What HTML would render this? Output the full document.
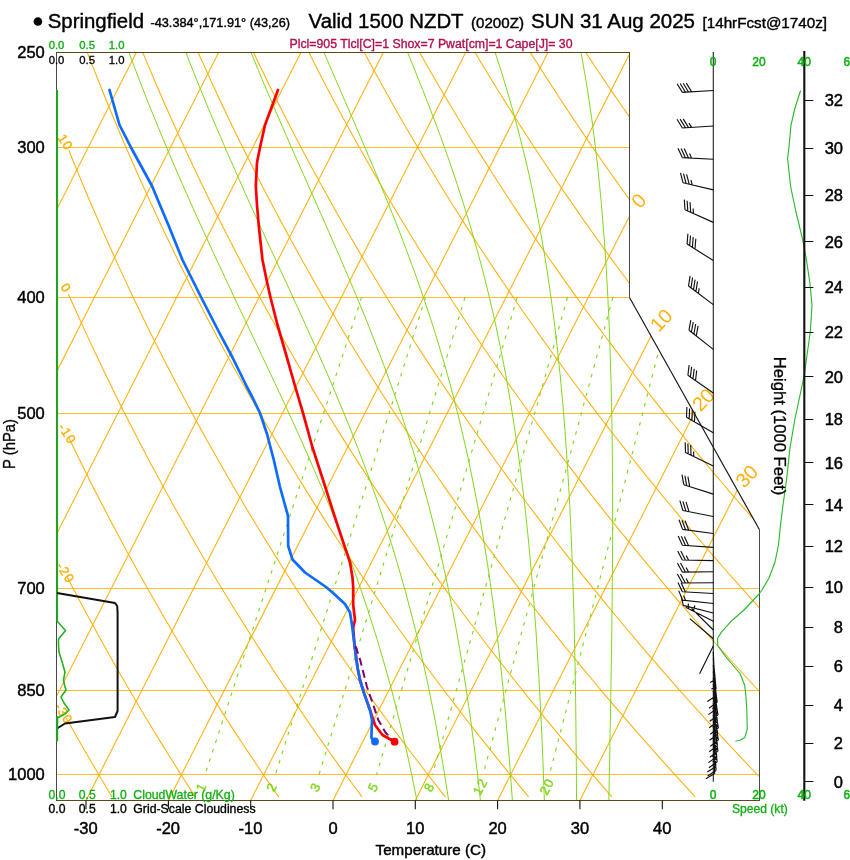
<!DOCTYPE html>
<html><head><meta charset="utf-8"><title>Skew-T Springfield</title>
<style>
html,body{margin:0;padding:0;background:#fff;}
body{width:850px;height:860px;overflow:hidden;}
svg{display:block;font-family:"Liberation Sans",Arial,Helvetica,sans-serif;}
</style></head><body>
<svg width="850" height="860" viewBox="0 0 850 860">
<rect width="850" height="860" fill="#fff"/>
<defs><clipPath id="fc"><polygon points="56.5,52.5 629.5,52.5 629.5,297.5 759.5,529.8 759.5,800.5 56.5,800.5"/></clipPath></defs>
<g clip-path="url(#fc)" fill="none" stroke-width="1.05">
<line x1="0" x2="850" y1="147.5" y2="147.5" stroke="#ffb00a" stroke-width="1" stroke-opacity="0.85"/>
<line x1="0" x2="850" y1="297.5" y2="297.5" stroke="#ffb00a" stroke-width="1" stroke-opacity="0.85"/>
<line x1="0" x2="850" y1="413.5" y2="413.5" stroke="#ffb00a" stroke-width="1" stroke-opacity="0.85"/>
<line x1="0" x2="850" y1="588.5" y2="588.5" stroke="#ffb00a" stroke-width="1" stroke-opacity="0.85"/>
<line x1="0" x2="850" y1="690.5" y2="690.5" stroke="#ffb00a" stroke-width="1" stroke-opacity="0.85"/>
<line x1="0" x2="850" y1="774.5" y2="774.5" stroke="#ffb00a" stroke-width="1" stroke-opacity="0.85"/>
<line x1="-490.2" y1="800.4" x2="-99.7" y2="31.1" stroke="#ffb00a"/>
<line x1="-407.9" y1="800.4" x2="-17.4" y2="31.1" stroke="#ffb00a"/>
<line x1="-325.6" y1="800.4" x2="64.9" y2="31.1" stroke="#ffb00a"/>
<line x1="-243.2" y1="800.4" x2="147.2" y2="31.1" stroke="#ffb00a"/>
<line x1="-160.9" y1="800.4" x2="229.5" y2="31.1" stroke="#ffb00a"/>
<line x1="-78.6" y1="800.4" x2="311.8" y2="31.1" stroke="#ffb00a"/>
<line x1="3.7" y1="800.4" x2="394.2" y2="31.1" stroke="#ffb00a"/>
<line x1="86.0" y1="800.4" x2="476.5" y2="31.1" stroke="#ffb00a"/>
<line x1="168.4" y1="800.4" x2="558.8" y2="31.1" stroke="#ffb00a"/>
<line x1="250.7" y1="800.4" x2="641.1" y2="31.1" stroke="#ffb00a"/>
<line x1="333.0" y1="800.4" x2="723.4" y2="31.1" stroke="#ffb00a"/>
<line x1="415.3" y1="800.4" x2="805.8" y2="31.1" stroke="#ffb00a"/>
<line x1="497.6" y1="800.4" x2="888.1" y2="31.1" stroke="#ffb00a"/>
<line x1="579.9" y1="800.4" x2="970.4" y2="31.1" stroke="#ffb00a"/>
<polyline points="66.5,718.0 66.6,718.7 67.5,720.2 68.3,721.6 69.1,723.1 69.9,724.6 70.8,726.1 71.6,727.5 72.4,729.0 73.3,730.5 74.1,732.0 74.9,733.4 75.8,734.9 76.6,736.4 77.4,737.9 78.3,739.3 79.1,740.8 80.0,742.3 80.8,743.8 81.6,745.2 82.5,746.7 83.3,748.2 84.2,749.7 85.0,751.2 85.9,752.6 86.7,754.1 87.6,755.6 88.5,757.1 89.3,758.5 90.2,760.0 91.0,761.5 91.9,763.0 92.8,764.4 93.6,765.9 94.5,767.4 95.3,768.9 96.2,770.3 97.1,771.8 98.0,773.3 98.8,774.8 99.7,776.2 100.6,777.7 101.4,779.2 102.3,780.7 103.2,782.2 104.1,783.6 105.0,785.1 105.8,786.6 106.7,788.1 107.6,789.5 108.5,791.0 109.4,792.5 110.3,794.0 111.2,795.4 112.1,796.9" stroke="#ffb00a"/>
<polyline points="67.6,576.0 67.6,577.8 69.6,581.6 71.6,585.5 73.6,589.3 75.7,593.1 77.7,597.0 79.7,600.8 81.8,604.7 83.8,608.5 85.9,612.4 88.0,616.2 90.1,620.1 92.2,623.9 94.3,627.8 96.4,631.6 98.5,635.4 100.6,639.3 102.7,643.1 104.9,647.0 107.0,650.8 109.2,654.7 111.4,658.5 113.5,662.4 115.7,666.2 117.9,670.0 120.1,673.9 122.3,677.7 124.6,681.6 126.8,685.4 129.0,689.3 131.3,693.1 133.5,697.0 135.8,700.8 138.1,704.6 140.3,708.5 142.6,712.3 144.9,716.2 147.3,720.0 149.6,723.9 151.9,727.7 154.2,731.6 156.6,735.4 158.9,739.2 161.3,743.1 163.7,746.9 166.1,750.8 168.4,754.6 170.8,758.5 173.3,762.3 175.7,766.2 178.1,770.0 180.5,773.8 183.0,777.7 185.4,781.5 187.9,785.4 190.4,789.2 192.9,793.1 195.4,796.9" stroke="#ffb00a"/>
<polyline points="69.0,438.2 72.1,444.6 75.1,450.8 78.1,457.0 81.2,463.1 84.2,469.3 87.3,475.5 90.4,481.7 93.5,487.9 96.7,494.0 99.9,500.2 103.1,506.4 106.3,512.6 109.5,518.8 112.8,525.0 116.0,531.1 119.3,537.3 122.7,543.5 126.0,549.7 129.4,555.9 132.8,562.0 136.2,568.2 139.6,574.4 143.1,580.6 146.5,586.8 150.0,592.9 153.6,599.1 157.1,605.3 160.7,611.5 164.3,617.7 167.9,623.8 171.5,630.0 175.2,636.2 178.9,642.4 182.6,648.6 186.3,654.8 190.1,660.9 193.8,667.1 197.6,673.3 201.5,679.5 205.3,685.7 209.2,691.8 213.1,698.0 217.0,704.2 220.9,710.4 224.9,716.6 228.9,722.7 232.9,728.9 236.9,735.1 241.0,741.3 245.1,747.5 249.2,753.6 253.3,759.8 257.5,766.0 261.7,772.2 265.9,778.4 270.1,784.6 274.4,790.7 278.7,796.9" stroke="#ffb00a"/>
<polyline points="68.3,294.3 70.5,298.7 74.3,307.3 78.2,315.9 82.1,324.5 86.0,333.1 90.0,341.6 94.0,350.2 98.1,358.8 102.2,367.4 106.3,376.0 110.5,384.6 114.7,393.2 118.9,401.8 123.2,410.4 127.6,419.0 131.9,427.5 136.4,436.1 140.8,444.7 145.3,453.3 149.9,461.9 154.5,470.5 159.1,479.1 163.8,487.7 168.5,496.3 173.2,504.9 178.0,513.4 182.9,522.0 187.8,530.6 192.7,539.2 197.7,547.8 202.7,556.4 207.8,565.0 212.9,573.6 218.0,582.2 223.2,590.8 228.5,599.3 233.7,607.9 239.1,616.5 244.5,625.1 249.9,633.7 255.3,642.3 260.9,650.9 266.4,659.5 272.0,668.1 277.7,676.7 283.4,685.2 289.2,693.8 295.0,702.4 300.8,711.0 306.7,719.6 312.7,728.2 318.6,736.8 324.7,745.4 330.8,754.0 336.9,762.6 343.1,771.1 349.4,779.7 355.7,788.3 362.0,796.9" stroke="#ffb00a"/>
<polyline points="69.0,150.3 70.9,155.5 75.4,166.5 80.0,177.6 84.6,188.7 89.2,199.7 94.0,210.8 98.8,221.8 103.6,232.9 108.6,244.0 113.5,255.0 118.6,266.1 123.7,277.1 128.9,288.2 134.1,299.2 139.5,310.3 144.8,321.4 150.3,332.4 155.8,343.5 161.4,354.5 167.0,365.6 172.8,376.7 178.6,387.7 184.4,398.8 190.3,409.8 196.3,420.9 202.4,432.0 208.5,443.0 214.8,454.1 221.0,465.1 227.4,476.2 233.8,487.3 240.3,498.3 246.9,509.4 253.6,520.4 260.3,531.5 267.1,542.6 274.0,553.6 280.9,564.7 287.9,575.7 295.0,586.8 302.2,597.8 309.5,608.9 316.8,620.0 324.2,631.0 331.7,642.1 339.3,653.1 347.0,664.2 354.7,675.3 362.5,686.3 370.4,697.4 378.4,708.4 386.5,719.5 394.6,730.6 402.9,741.6 411.2,752.7 419.6,763.7 428.1,774.8 436.6,785.9 445.3,796.9" stroke="#ffb00a"/>
<polyline points="79.3,31.1 84.1,43.9 89.0,56.7 94.0,69.4 99.0,82.2 104.1,95.0 109.3,107.7 114.6,120.5 120.0,133.2 125.4,146.0 131.0,158.8 136.6,171.5 142.3,184.3 148.1,197.1 153.9,209.8 159.9,222.6 165.9,235.3 172.1,248.1 178.3,260.9 184.6,273.6 191.0,286.4 197.5,299.2 204.1,311.9 210.8,324.7 217.5,337.5 224.4,350.2 231.4,363.0 238.4,375.7 245.6,388.5 252.8,401.3 260.1,414.0 267.6,426.8 275.1,439.6 282.7,452.3 290.5,465.1 298.3,477.8 306.2,490.6 314.2,503.4 322.4,516.1 330.6,528.9 339.0,541.7 347.4,554.4 356.0,567.2 364.6,579.9 373.4,592.7 382.2,605.5 391.2,618.2 400.3,631.0 409.5,643.8 418.8,656.5 428.2,669.3 437.7,682.0 447.4,694.8 457.1,707.6 467.0,720.3 477.0,733.1 487.1,745.9 497.3,758.6 507.6,771.4 518.1,784.2 528.6,796.9" stroke="#ffb00a"/>
<polyline points="134.1,31.1 139.3,43.9 144.5,56.7 149.9,69.4 155.3,82.2 160.8,95.0 166.4,107.7 172.1,120.5 177.9,133.2 183.7,146.0 189.7,158.8 195.7,171.5 201.8,184.3 208.0,197.1 214.3,209.8 220.7,222.6 227.2,235.3 233.7,248.1 240.4,260.9 247.1,273.6 254.0,286.4 260.9,299.2 267.9,311.9 275.1,324.7 282.3,337.5 289.6,350.2 297.0,363.0 304.5,375.7 312.1,388.5 319.8,401.3 327.7,414.0 335.6,426.8 343.6,439.6 351.7,452.3 359.9,465.1 368.2,477.8 376.6,490.6 385.2,503.4 393.8,516.1 402.5,528.9 411.4,541.7 420.3,554.4 429.4,567.2 438.6,579.9 447.8,592.7 457.2,605.5 466.7,618.2 476.4,631.0 486.1,643.8 495.9,656.5 505.9,669.3 516.0,682.0 526.1,694.8 536.5,707.6 546.9,720.3 557.4,733.1 568.1,745.9 578.9,758.6 589.8,771.4 600.8,784.2 611.9,796.9" stroke="#ffb00a"/>
<polyline points="188.8,31.1 194.4,43.9 200.0,56.7 205.8,69.4 211.6,82.2 217.5,95.0 223.5,107.7 229.6,120.5 235.7,133.2 242.0,146.0 248.4,158.8 254.8,171.5 261.3,184.3 268.0,197.1 274.7,209.8 281.5,222.6 288.4,235.3 295.4,248.1 302.5,260.9 309.7,273.6 316.9,286.4 324.3,299.2 331.8,311.9 339.4,324.7 347.0,337.5 354.8,350.2 362.7,363.0 370.7,375.7 378.7,388.5 386.9,401.3 395.2,414.0 403.6,426.8 412.1,439.6 420.6,452.3 429.3,465.1 438.2,477.8 447.1,490.6 456.1,503.4 465.2,516.1 474.5,528.9 483.8,541.7 493.3,554.4 502.8,567.2 512.5,579.9 522.3,592.7 532.2,605.5 542.3,618.2 552.4,631.0 562.7,643.8 573.1,656.5 583.6,669.3 594.2,682.0 604.9,694.8 615.8,707.6 626.8,720.3 637.9,733.1 649.1,745.9 660.4,758.6 671.9,771.4 683.5,784.2 695.3,796.9" stroke="#ffb00a"/>
<polyline points="243.5,31.1 249.3,43.6 255.2,56.0 261.2,68.4 267.2,80.8 273.3,93.3 279.5,105.7 285.8,118.1 292.2,130.5 298.7,142.9 305.3,155.4 311.9,167.8 318.6,180.2 325.5,192.6 332.4,205.1 339.4,217.5 346.5,229.9 353.7,242.3 360.9,254.8 368.3,267.2 375.8,279.6 383.3,292.0 391.0,304.5 398.7,316.9 406.6,329.3 414.5,341.7 422.6,354.1 430.7,366.6 438.9,379.0 447.3,391.4 455.7,403.8 464.3,416.3 472.9,428.7 481.6,441.1 490.5,453.5 499.4,466.0 508.5,478.4 517.6,490.8 526.9,503.2 536.3,515.6 545.7,528.1 555.3,540.5 565.0,552.9 574.8,565.3 584.7,577.8 594.8,590.2 604.9,602.6 615.1,615.0 625.5,627.5 636.0,639.9 646.6,652.3 657.3,664.7 668.1,677.1 679.0,689.6 690.1,702.0 701.3,714.4 712.6,726.8 724.0,739.3 735.5,751.7 747.2,764.1 759.0,776.5" stroke="#ffb00a"/>
<polyline points="298.3,31.1 303.7,42.1 309.3,53.2 314.8,64.2 320.5,75.2 326.2,86.2 332.0,97.2 337.9,108.2 343.8,119.2 349.8,130.2 355.9,141.2 362.1,152.2 368.3,163.2 374.6,174.2 380.9,185.2 387.4,196.2 393.9,207.2 400.4,218.2 407.1,229.2 413.8,240.3 420.6,251.3 427.5,262.3 434.5,273.3 441.5,284.3 448.6,295.3 455.8,306.3 463.0,317.3 470.4,328.3 477.8,339.3 485.3,350.3 492.9,361.3 500.5,372.3 508.2,383.3 516.1,394.3 523.9,405.3 531.9,416.3 540.0,427.3 548.1,438.4 556.3,449.4 564.7,460.4 573.0,471.4 581.5,482.4 590.1,493.4 598.7,504.4 607.5,515.4 616.3,526.4 625.2,537.4 634.2,548.4 643.3,559.4 652.5,570.4 661.7,581.4 671.1,592.4 680.5,603.4 690.0,614.4 699.7,625.5 709.4,636.5 719.2,647.5 729.1,658.5 739.1,669.5 749.2,680.5 759.4,691.5" stroke="#ffb00a"/>
<polyline points="353.0,31.1 358.1,40.8 363.2,50.4 368.4,60.1 373.6,69.7 378.9,79.3 384.2,89.0 389.6,98.6 395.0,108.3 400.5,117.9 406.1,127.5 411.7,137.2 417.4,146.8 423.1,156.5 428.9,166.1 434.7,175.7 440.6,185.4 446.5,195.0 452.5,204.7 458.6,214.3 464.7,223.9 470.9,233.6 477.1,243.2 483.4,252.8 489.8,262.5 496.2,272.1 502.7,281.8 509.2,291.4 515.8,301.0 522.5,310.7 529.2,320.3 536.0,330.0 542.8,339.6 549.7,349.2 556.7,358.9 563.7,368.5 570.8,378.2 578.0,387.8 585.2,397.4 592.5,407.1 599.8,416.7 607.2,426.4 614.7,436.0 622.3,445.6 629.9,455.3 637.6,464.9 645.3,474.6 653.1,484.2 661.0,493.8 668.9,503.5 677.0,513.1 685.0,522.8 693.2,532.4 701.4,542.0 709.7,551.7 718.1,561.3 726.5,571.0 735.0,580.6 743.6,590.2 752.2,599.9 760.9,609.5" stroke="#ffb00a"/>
<polyline points="407.7,31.1 412.3,39.4 416.9,47.6 421.5,55.8 426.2,64.0 430.9,72.2 435.7,80.4 440.5,88.7 445.4,96.9 450.2,105.1 455.2,113.3 460.1,121.5 465.1,129.7 470.2,138.0 475.3,146.2 480.4,154.4 485.6,162.6 490.8,170.8 496.1,179.0 501.4,187.3 506.7,195.5 512.1,203.7 517.5,211.9 523.0,220.1 528.5,228.3 534.1,236.6 539.7,244.8 545.3,253.0 551.0,261.2 556.8,269.4 562.6,277.6 568.4,285.9 574.3,294.1 580.2,302.3 586.1,310.5 592.2,318.7 598.2,326.9 604.3,335.2 610.5,343.4 616.7,351.6 622.9,359.8 629.2,368.0 635.5,376.2 641.9,384.4 648.3,392.7 654.8,400.9 661.4,409.1 667.9,417.3 674.6,425.5 681.2,433.7 688.0,442.0 694.7,450.2 701.5,458.4 708.4,466.6 715.3,474.8 722.3,483.0 729.3,491.3 736.4,499.5 743.5,507.7 750.7,515.9 757.9,524.1" stroke="#ffb00a"/>
<polyline points="462.5,31.1 465.0,35.5 467.5,39.8 470.1,44.1 472.6,48.5 475.2,52.8 477.8,57.1 480.4,61.4 483.0,65.8 485.6,70.1 488.3,74.4 490.9,78.8 493.6,83.1 496.2,87.4 498.9,91.7 501.6,96.1 504.3,100.4 507.0,104.7 509.7,109.0 512.5,113.4 515.2,117.7 518.0,122.0 520.7,126.4 523.5,130.7 526.3,135.0 529.1,139.3 531.9,143.7 534.8,148.0 537.6,152.3 540.5,156.7 543.3,161.0 546.2,165.3 549.1,169.6 552.0,174.0 554.9,178.3 557.8,182.6 560.8,187.0 563.7,191.3 566.7,195.6 569.7,199.9 572.7,204.3 575.7,208.6 578.7,212.9 581.7,217.3 584.7,221.6 587.8,225.9 590.9,230.2 593.9,234.6 597.0,238.9 600.1,243.2 603.2,247.6 606.4,251.9 609.5,256.2 612.6,260.5 615.8,264.9 619.0,269.2 622.2,273.5 625.4,277.8 628.6,282.2 631.8,286.5 635.1,290.8" stroke="#ffb00a"/>
<polyline points="517.2,31.1 519.0,34.0 520.7,36.9 522.5,39.8 524.3,42.6 526.1,45.5 527.8,48.4 529.6,51.2 531.4,54.1 533.2,57.0 535.0,59.9 536.9,62.7 538.7,65.6 540.5,68.5 542.3,71.3 544.2,74.2 546.0,77.1 547.9,79.9 549.7,82.8 551.6,85.7 553.4,88.6 555.3,91.4 557.2,94.3 559.0,97.2 560.9,100.0 562.8,102.9 564.7,105.8 566.6,108.7 568.5,111.5 570.4,114.4 572.3,117.3 574.2,120.1 576.2,123.0 578.1,125.9 580.0,128.8 582.0,131.6 583.9,134.5 585.9,137.4 587.8,140.2 589.8,143.1 591.7,146.0 593.7,148.9 595.7,151.7 597.7,154.6 599.7,157.5 601.7,160.3 603.7,163.2 605.7,166.1 607.7,169.0 609.7,171.8 611.7,174.7 613.7,177.6 615.8,180.4 617.8,183.3 619.8,186.2 621.9,189.0 624.0,191.9 626.0,194.8 628.1,197.7 630.1,200.5 632.2,203.4" stroke="#ffb00a"/>
<polyline points="571.9,31.1 572.9,32.7 573.9,34.2 574.9,35.7 575.9,37.2 576.8,38.8 577.8,40.3 578.8,41.8 579.8,43.3 580.8,44.9 581.8,46.4 582.8,47.9 583.8,49.4 584.8,50.9 585.8,52.5 586.8,54.0 587.8,55.5 588.8,57.0 589.8,58.6 590.8,60.1 591.8,61.6 592.8,63.1 593.8,64.7 594.8,66.2 595.9,67.7 596.9,69.2 597.9,70.7 598.9,72.3 599.9,73.8 601.0,75.3 602.0,76.8 603.0,78.4 604.0,79.9 605.1,81.4 606.1,82.9 607.1,84.5 608.1,86.0 609.2,87.5 610.2,89.0 611.3,90.5 612.3,92.1 613.3,93.6 614.4,95.1 615.4,96.6 616.5,98.2 617.5,99.7 618.6,101.2 619.6,102.7 620.7,104.3 621.7,105.8 622.8,107.3 623.8,108.8 624.9,110.4 625.9,111.9 627.0,113.4 628.1,114.9 629.1,116.4 630.2,118.0 631.2,119.5 632.3,121.0 633.4,122.5" stroke="#ffb00a"/>
<polyline points="608.8,800.4 609.0,790.9 609.2,781.4 609.4,772.0 609.6,762.5 609.8,753.0 609.9,743.5 610.1,734.0 610.3,724.5 610.5,715.1 610.6,705.6 610.8,696.1 611.0,686.6 611.1,677.1 611.3,667.7 611.4,658.2 611.6,648.7 611.7,639.2 611.8,629.7 611.9,620.3 612.0,610.8 612.2,601.3 612.2,591.8 612.3,582.3 612.4,572.8 612.5,563.4 612.5,553.9 612.6,544.4 612.6,534.9 612.6,525.4 612.6,516.0 612.6,506.5 612.6,497.0 612.6,487.5 612.5,478.0 612.4,468.6 612.4,459.1 612.3,449.6 612.2,440.1 612.0,430.6 611.9,421.1 611.7,411.7 611.5,402.2 611.3,392.7 611.1,383.2 610.8,373.7 610.5,364.3 610.2,354.8 609.9,345.3 609.6,335.8 609.2,326.3 608.8,316.8 608.3,307.4 607.9,297.9 607.4,288.4 606.8,278.9 606.3,269.4 605.7,260.0 605.0,250.5 604.4,241.0 603.6,231.5 602.9,222.0 602.1,212.6 601.3,203.1 600.4,193.6 599.5,184.1 598.5,174.6 597.5,165.1 596.4,155.7 595.3,146.2 594.1,136.7 592.9,127.2 591.6,117.7 590.2,108.3 588.8,98.8 587.4,89.3 585.8,79.8 584.2,70.3 582.6,60.9 580.8,51.4 579.0,41.9" stroke="#80d818" stroke-width="1"/>
<polyline points="576.5,800.4 576.5,790.9 576.4,781.4 576.4,772.0 576.3,762.5 576.2,753.0 576.1,743.5 576.0,734.0 575.9,724.5 575.8,715.1 575.7,705.6 575.6,696.1 575.4,686.6 575.3,677.1 575.1,667.7 574.9,658.2 574.7,648.7 574.5,639.2 574.3,629.7 574.1,620.3 573.8,610.8 573.5,601.3 573.2,591.8 572.9,582.3 572.6,572.8 572.3,563.4 571.9,553.9 571.5,544.4 571.1,534.9 570.7,525.4 570.2,516.0 569.8,506.5 569.3,497.0 568.7,487.5 568.2,478.0 567.6,468.6 567.0,459.1 566.3,449.6 565.7,440.1 565.0,430.6 564.2,421.1 563.5,411.7 562.7,402.2 561.8,392.7 560.9,383.2 560.0,373.7 559.0,364.3 558.0,354.8 557.0,345.3 555.9,335.8 554.8,326.3 553.6,316.8 552.3,307.4 551.1,297.9 549.7,288.4 548.3,278.9 546.9,269.4 545.4,260.0 543.8,250.5 542.2,241.0 540.5,231.5 538.7,222.0 536.9,212.6 535.0,203.1 533.1,193.6 531.1,184.1 529.0,174.6 526.8,165.1 524.6,155.7 522.2,146.2 519.8,136.7 517.4,127.2 514.8,117.7 512.2,108.3 509.5,98.8 506.7,89.3 503.9,79.8 500.9,70.3 497.9,60.9 494.8,51.4 491.6,41.9" stroke="#80d818" stroke-width="1"/>
<polyline points="544.4,800.4 544.0,790.9 543.7,781.4 543.3,772.0 543.0,762.5 542.6,753.0 542.2,743.5 541.8,734.0 541.3,724.5 540.9,715.1 540.4,705.6 539.9,696.1 539.4,686.6 538.9,677.1 538.3,667.7 537.7,658.2 537.1,648.7 536.5,639.2 535.9,629.7 535.2,620.3 534.5,610.8 533.8,601.3 533.0,591.8 532.3,582.3 531.4,572.8 530.6,563.4 529.7,553.9 528.8,544.4 527.9,534.9 526.9,525.4 525.9,516.0 524.9,506.5 523.8,497.0 522.6,487.5 521.5,478.0 520.3,468.6 519.0,459.1 517.7,449.6 516.3,440.1 514.9,430.6 513.5,421.1 512.0,411.7 510.5,402.2 508.8,392.7 507.2,383.2 505.5,373.7 503.7,364.3 501.9,354.8 500.0,345.3 498.0,335.8 496.0,326.3 493.9,316.8 491.7,307.4 489.5,297.9 487.2,288.4 484.8,278.9 482.4,269.4 479.9,260.0 477.3,250.5 474.6,241.0 471.9,231.5 469.1,222.0 466.2,212.6 463.2,203.1 460.2,193.6 457.1,184.1 453.9,174.6 450.7,165.1 447.4,155.7 444.0,146.2 440.6,136.7 437.1,127.2 433.5,117.7 429.9,108.3 426.2,98.8 422.5,89.3 418.7,79.8 414.9,70.3 411.1,60.9 407.2,51.4 403.3,41.9" stroke="#80d818" stroke-width="1"/>
<polyline points="512.4,800.4 511.7,790.9 511.0,781.4 510.3,772.0 509.6,762.5 508.8,753.0 508.0,743.5 507.2,734.0 506.4,724.5 505.6,715.1 504.7,705.6 503.8,696.1 502.8,686.6 501.9,677.1 500.9,667.7 499.8,658.2 498.7,648.7 497.6,639.2 496.5,629.7 495.3,620.3 494.1,610.8 492.8,601.3 491.5,591.8 490.2,582.3 488.8,572.8 487.4,563.4 485.9,553.9 484.4,544.4 482.8,534.9 481.2,525.4 479.5,516.0 477.8,506.5 476.0,497.0 474.1,487.5 472.2,478.0 470.3,468.6 468.3,459.1 466.2,449.6 464.0,440.1 461.8,430.6 459.6,421.1 457.2,411.7 454.8,402.2 452.3,392.7 449.8,383.2 447.2,373.7 444.5,364.3 441.7,354.8 438.9,345.3 436.0,335.8 433.0,326.3 429.9,316.8 426.8,307.4 423.6,297.9 420.3,288.4 417.0,278.9 413.6,269.4 410.1,260.0 406.6,250.5 403.0,241.0 399.4,231.5 395.7,222.0 391.9,212.6 388.1,203.1 384.2,193.6 380.3,184.1 376.4,174.6 372.4,165.1 368.4,155.7 364.4,146.2 360.4,136.7 356.3,127.2 352.2,117.7 348.1,108.3 344.0,98.8 339.9,89.3 335.8,79.8 331.7,70.3 327.6,60.9 323.6,51.4 319.5,41.9" stroke="#80d818" stroke-width="1"/>
<polyline points="480.4,800.4 479.4,790.9 478.3,781.4 477.3,772.0 476.1,762.5 475.0,753.0 473.8,743.5 472.5,734.0 471.3,724.5 470.0,715.1 468.6,705.6 467.2,696.1 465.8,686.6 464.3,677.1 462.8,667.7 461.2,658.2 459.6,648.7 458.0,639.2 456.3,629.7 454.5,620.3 452.7,610.8 450.8,601.3 448.9,591.8 447.0,582.3 444.9,572.8 442.8,563.4 440.7,553.9 438.5,544.4 436.2,534.9 433.8,525.4 431.4,516.0 429.0,506.5 426.4,497.0 423.8,487.5 421.1,478.0 418.4,468.6 415.6,459.1 412.7,449.6 409.7,440.1 406.7,430.6 403.6,421.1 400.4,411.7 397.1,402.2 393.8,392.7 390.4,383.2 387.0,373.7 383.5,364.3 379.9,354.8 376.2,345.3 372.5,335.8 368.8,326.3 365.0,316.8 361.1,307.4 357.2,297.9 353.2,288.4 349.2,278.9 345.1,269.4 341.1,260.0 337.0,250.5 332.8,241.0 328.7,231.5 324.5,222.0 320.3,212.6 316.1,203.1 311.9,193.6 307.7,184.1 303.5,174.6 299.3,165.1 295.1,155.7 290.9,146.2 286.8,136.7 282.6,127.2 278.5,117.7 274.4,108.3 270.4,98.8 266.3,89.3 262.3,79.8 258.4,70.3 254.5,60.9 250.6,51.4 246.8,41.9" stroke="#80d818" stroke-width="1"/>
<polyline points="448.6,800.4 447.2,790.9 445.7,781.4 444.2,772.0 442.6,762.5 441.0,753.0 439.3,743.5 437.6,734.0 435.9,724.5 434.1,715.1 432.2,705.6 430.3,696.1 428.4,686.6 426.3,677.1 424.3,667.7 422.1,658.2 419.9,648.7 417.7,639.2 415.4,629.7 413.0,620.3 410.5,610.8 408.0,601.3 405.5,591.8 402.8,582.3 400.1,572.8 397.3,563.4 394.5,553.9 391.6,544.4 388.6,534.9 385.5,525.4 382.4,516.0 379.2,506.5 375.9,497.0 372.5,487.5 369.1,478.0 365.6,468.6 362.0,459.1 358.4,449.6 354.7,440.1 351.0,430.6 347.1,421.1 343.3,411.7 339.3,402.2 335.3,392.7 331.3,383.2 327.2,373.7 323.1,364.3 318.9,354.8 314.7,345.3 310.5,335.8 306.2,326.3 301.9,316.8 297.6,307.4 293.2,297.9 288.9,288.4 284.5,278.9 280.1,269.4 275.8,260.0 271.4,250.5 267.0,241.0 262.7,231.5 258.3,222.0 254.0,212.6 249.7,203.1 245.4,193.6 241.2,184.1 237.0,174.6 232.8,165.1 228.6,155.7 224.5,146.2 220.4,136.7 216.3,127.2 212.3,117.7 208.3,108.3 204.4,98.8 200.5,89.3 196.7,79.8 192.9,70.3 189.1,60.9 185.5,51.4 181.8,41.9" stroke="#80d818" stroke-width="1"/>
<polyline points="416.9,800.4 415.0,790.9 413.1,781.4 411.1,772.0 409.1,762.5 407.0,753.0 404.8,743.5 402.6,734.0 400.3,724.5 398.0,715.1 395.6,705.6 393.2,696.1 390.7,686.6 388.1,677.1 385.4,667.7 382.7,658.2 379.9,648.7 377.1,639.2 374.1,629.7 371.1,620.3 368.1,610.8 364.9,601.3 361.7,591.8 358.4,582.3 355.1,572.8 351.6,563.4 348.1,553.9 344.6,544.4 340.9,534.9 337.2,525.4 333.5,516.0 329.6,506.5 325.7,497.0 321.7,487.5 317.7,478.0 313.6,468.6 309.5,459.1 305.3,449.6 301.1,440.1 296.8,430.6 292.5,421.1 288.2,411.7 283.8,402.2 279.4,392.7 274.9,383.2 270.5,373.7 266.0,364.3 261.5,354.8 257.0,345.3 252.5,335.8 248.0,326.3 243.5,316.8 239.0,307.4 234.5,297.9 230.1,288.4 225.6,278.9 221.2,269.4 216.7,260.0 212.3,250.5 208.0,241.0 203.6,231.5 199.3,222.0 195.0,212.6 190.8,203.1 186.6,193.6 182.4,184.1 178.2,174.6 174.1,165.1 170.1,155.7 166.1,146.2 162.1,136.7 158.2,127.2 154.3,117.7 150.5,108.3 146.7,98.8 143.0,89.3 139.3,79.8 135.7,70.3 132.1,60.9 128.5,51.4 125.1,41.9" stroke="#80d818" stroke-width="1"/>
<line x1="672.5" y1="297.4" x2="549.4" y2="775.0" stroke="#80d818" stroke-width="1.15" stroke-dasharray="3.6,6.3"/>
<line x1="612.9" y1="297.4" x2="482.9" y2="775.0" stroke="#80d818" stroke-width="1.15" stroke-dasharray="3.6,6.3"/>
<line x1="567.5" y1="297.4" x2="432.4" y2="775.0" stroke="#80d818" stroke-width="1.15" stroke-dasharray="3.6,6.3"/>
<line x1="517.2" y1="297.4" x2="376.5" y2="775.0" stroke="#80d818" stroke-width="1.15" stroke-dasharray="3.6,6.3"/>
<line x1="465.0" y1="297.4" x2="318.9" y2="775.0" stroke="#80d818" stroke-width="1.15" stroke-dasharray="3.6,6.3"/>
<line x1="425.5" y1="297.4" x2="275.3" y2="775.0" stroke="#80d818" stroke-width="1.15" stroke-dasharray="3.6,6.3"/>
<line x1="361.6" y1="297.4" x2="204.9" y2="775.0" stroke="#80d818" stroke-width="1.15" stroke-dasharray="3.6,6.3"/>
</g>
<g font-size="13" letter-spacing="1" fill="#ffb00a" stroke="#ffb00a" stroke-width="0.4" text-anchor="middle" clip-path="url(#fc)">
<text transform="translate(65.5,142.4) rotate(57.0)" y="4.5">10</text>
<text transform="translate(66.1,287.9) rotate(57.0)" y="4.5">0</text>
<text transform="translate(67.3,433.7) rotate(57.0)" y="4.5">-10</text>
<text transform="translate(65.5,572.8) rotate(57.0)" y="4.5">-20</text>
<text transform="translate(63.8,713.5) rotate(57.0)" y="4.5">-30</text>
</g>
<g font-size="13" letter-spacing="1.2" fill="#80d818" stroke="#80d818" stroke-width="0.4" text-anchor="middle">
<text transform="translate(546.5,786.9) rotate(-62)" x="0.6" y="4.6">20</text>
<text transform="translate(479.8,786.9) rotate(-62)" x="0.6" y="4.6">12</text>
<text transform="translate(429.2,786.9) rotate(-62)" x="0.0" y="4.6">8</text>
<text transform="translate(373.2,786.9) rotate(-62)" x="0.0" y="4.6">5</text>
<text transform="translate(315.3,786.9) rotate(-62)" x="0.0" y="4.6">3</text>
<text transform="translate(271.6,786.9) rotate(-62)" x="0.0" y="4.6">2</text>
<text transform="translate(201.1,786.9) rotate(-62)" x="0.0" y="4.6">1</text>
</g>
<g font-size="20" fill="#ffb00a" text-anchor="middle">
<text transform="translate(638.5,200.5) rotate(-47)" y="7.2">0</text>
<text transform="translate(661.0,320.0) rotate(-47)" y="7.2">10</text>
<text transform="translate(703.0,399.5) rotate(-47)" y="7.2">20</text>
<text transform="translate(746.5,476.0) rotate(-47)" y="7.2">30</text>
</g>
<path d="M56.5 52.5 V800.5 M629.5 52.5 V297.5 M759.5 529.8 V800.5" fill="none" stroke="#484848" stroke-width="1"/>
<path d="M56.0 52.5 H630.0 M56.0 800.5 H760.0" fill="none" stroke="#5a481c" stroke-width="1"/>
<path d="M629.5 297.5 L759.5 529.8" fill="none" stroke="#151515" stroke-width="1.15"/>
<g fill="none" stroke-linejoin="round" stroke-linecap="round">
<polyline points="278.0,90.0 265.0,125.0 260.0,147.5 257.0,162.5 255.8,186.0 257.0,205.0 258.8,226.0 262.5,260.0 267.0,282.0 270.5,297.5 277.5,325.0 286.2,355.0 295.0,386.0 303.0,413.0 312.5,447.5 324.0,483.0 335.0,517.5 345.0,547.5 350.0,562.5 352.5,577.5 353.2,587.0 353.2,605.0 355.0,620.0 353.2,627.5 354.5,645.0 357.5,667.5 360.0,680.0 363.8,692.5 370.0,710.0 372.0,716.0 375.0,725.0 382.5,735.0 394.5,741.7" stroke="#ff0000" stroke-width="2.7"/>
<polyline points="109.5,90.0 119.5,125.0 131.0,147.5 152.0,186.0 168.8,226.0 182.5,260.0 196.0,287.0 202.5,300.0 220.0,334.0 232.5,357.5 247.0,387.0 252.5,397.5 260.0,413.0 267.0,434.0 273.8,460.0 280.0,487.0 288.0,516.0 288.2,546.0 292.5,559.5 305.0,572.5 326.0,587.0 332.5,592.5 345.0,604.0 350.0,612.5 352.0,625.0 354.5,645.0 357.5,667.5 360.0,680.0 363.8,692.5 370.0,710.0 372.0,720.0 371.4,737.5 373.5,741.0" stroke="#0d6bff" stroke-width="2.7"/>
<polyline points="355.5,646.0 360.2,660.0 367.0,687.0 373.3,705.0 378.3,720.0 385.5,732.5 392.5,740.5" stroke="#800070" stroke-width="2" stroke-dasharray="8,4.5" stroke-linecap="butt"/>
</g>
<circle cx="394.6" cy="741.7" r="3.9" fill="#ff0000"/>
<circle cx="375" cy="741.5" r="3.9" fill="#0d6bff"/>
<line x1="57.1" x2="57.1" y1="90" y2="621" stroke="#20a820" stroke-width="2"/>
<polyline points="57.0,593.0 115.0,603.0 117.2,606.0 117.6,613.0 117.6,711.0 115.0,717.0 65.0,723.5 57.0,728.5" fill="none" stroke="#111" stroke-width="2" stroke-linejoin="round"/>
<polyline points="57.0,621.0 65.5,630.5 58.5,639.0 58.5,645.0 59.0,652.0 61.5,660.0 65.0,672.0 63.5,680.0 64.5,685.0 66.0,690.0 61.0,697.0 64.0,703.0 69.0,710.0 65.0,714.0 57.5,718.0 57.3,741.0" fill="none" stroke="#22b422" stroke-width="1.6" stroke-linejoin="round"/>
<line x1="57.1" x2="57.1" y1="716" y2="741.5" stroke="#20a820" stroke-width="1.9"/>
<line x1="713.3" x2="713.3" y1="52" y2="781.8" stroke="#222" stroke-width="1.1"/>
<path d="M713.3 90.5 L682.4 92.4 M682.4 92.4 l-5.3 -8.7 M685.5 92.2 l-5.3 -8.7 M688.5 92.0 l-5.3 -8.7 M691.6 91.8 l-5.3 -8.7 M713.3 126.0 L682.4 128.0 M682.4 128.0 l-5.4 -8.7 M685.5 127.8 l-5.4 -8.7 M688.6 127.6 l-5.4 -8.7 M691.6 127.4 l-2.7 -4.3 M713.3 159.3 L682.3 157.6 M682.3 157.6 l-4.3 -9.3 M685.4 157.8 l-4.3 -9.3 M688.5 157.9 l-4.3 -9.3 M691.6 158.1 l-2.1 -4.6 M713.3 189.9 L683.1 182.8 M683.1 182.8 l-2.6 -9.9 M686.1 183.5 l-2.6 -9.9 M689.2 184.2 l-2.6 -9.9 M692.2 184.9 l-1.3 -4.9 M713.3 222.4 L685.0 209.8 M685.0 209.8 l-0.7 -10.2 M687.8 211.0 l-0.7 -10.2 M690.7 212.3 l-0.7 -10.2 M693.5 213.6 l-0.4 -5.1 M713.3 260.6 L687.1 244.0 M687.1 244.0 l0.8 -10.2 M689.7 245.7 l0.8 -10.2 M692.4 247.3 l0.8 -10.2 M695.0 249.0 l0.8 -10.2 M713.3 304.6 L688.5 286.0 M688.5 286.0 l1.6 -10.1 M691.0 287.8 l1.6 -10.1 M693.5 289.7 l1.6 -10.1 M695.9 291.6 l1.6 -10.1 M698.4 293.4 l0.8 -5.0 M713.3 349.4 L689.0 330.2 M689.0 330.2 l1.8 -10.0 M691.4 332.1 l1.8 -10.0 M693.9 334.0 l1.8 -10.0 M696.3 335.9 l1.8 -10.0 M713.3 393.0 L687.9 375.2 M687.9 375.2 l1.2 -10.1 M690.4 377.0 l1.2 -10.1 M693.0 378.8 l1.2 -10.1 M695.5 380.6 l1.2 -10.1 M713.3 432.8 L686.5 417.2 M686.5 417.2 l0.4 -10.2 M689.2 418.8 l0.4 -10.2 M691.9 420.3 l0.4 -10.2 M694.5 421.9 l0.4 -10.2 M713.3 466.1 L685.5 452.5 M685.5 452.5 l-0.3 -10.2 M688.2 453.8 l-0.3 -10.2 M691.0 455.2 l-0.3 -10.2 M693.8 456.6 l-0.2 -5.1 M713.3 494.1 L683.8 484.7 M683.8 484.7 l-1.8 -10.0 M686.7 485.6 l-1.8 -10.0 M689.7 486.6 l-1.8 -10.0 M713.3 516.5 L682.9 510.5 M682.9 510.5 l-3.0 -9.8 M685.9 511.1 l-3.0 -9.8 M689.0 511.7 l-3.0 -9.8 M713.3 533.5 L682.6 529.4 M682.6 529.4 l-3.6 -9.6 M685.6 529.8 l-3.6 -9.6 M688.7 530.2 l-3.6 -9.6 M713.3 547.4 L682.4 545.3 M682.4 545.3 l-4.2 -9.3 M685.5 545.5 l-4.2 -9.3 M688.6 545.8 l-4.2 -9.3 M713.3 560.6 L682.3 560.0 M682.3 560.0 l-4.6 -9.1 M685.4 560.1 l-4.6 -9.1 M688.5 560.1 l-2.3 -4.5 M713.3 571.8 L682.3 572.1 M682.3 572.1 l-4.9 -9.0 M685.4 572.1 l-4.9 -9.0 M688.5 572.0 l-2.4 -4.5 M713.3 582.7 L682.3 583.0 M682.3 583.0 l-4.9 -9.0 M685.4 583.0 l-4.9 -9.0 M688.5 582.9 l-2.4 -4.5 M713.3 593.5 L682.3 591.8 M682.3 591.8 l-4.3 -9.3 M685.4 592.0 l-4.3 -9.3 M713.3 603.5 L682.5 600.1 M682.5 600.1 l-3.8 -9.5 M685.6 600.4 l-1.9 -4.7 M713.3 613.0 L683.3 605.4 M683.3 605.4 l-2.4 -9.9 M713.3 621.2 L685.7 607.2 M688.4 608.6 l-0.1 -5.1 M713.3 630.0 L691.2 608.2 M693.4 610.4 l1.5 -4.9 M713.3 638.8 L689.8 618.6 M713.3 645.9 L699.6 673.7 M713.3 652.0 L714.7 683.0 M714.6 679.9 l-4.4 2.6 M713.3 658.5 L716.1 689.4 M715.8 686.3 l-4.3 2.8 M713.3 665.0 L715.9 695.9 M715.9 695.9 l-8.6 5.5 M713.3 671.5 L717.2 702.3 M717.2 702.3 l-8.3 5.9 M713.3 678.0 L716.8 708.8 M716.8 708.8 l-8.4 5.8 M716.5 705.7 l-4.2 2.9 M713.3 684.5 L718.0 715.1 M718.0 715.1 l-8.2 6.1 M717.5 712.1 l-4.1 3.0 M713.3 691.0 L717.5 721.7 M717.5 721.7 l-8.3 6.0 M717.1 718.6 l-4.1 3.0 M713.3 697.5 L718.4 728.1 M718.4 728.1 l-8.1 6.2 M717.9 725.0 l-4.0 3.1 M713.3 703.5 L717.7 734.2 M717.7 734.2 l-8.2 6.0 M717.3 731.1 l-4.1 3.0 M713.3 709.5 L718.4 740.1 M718.4 740.1 l-8.1 6.2 M717.9 737.0 l-4.0 3.1 M713.3 715.0 L717.5 745.7 M717.5 745.7 l-8.3 6.0 M717.1 742.6 l-4.1 3.0 M713.3 720.5 L718.0 751.1 M718.0 751.1 l-8.2 6.1 M717.5 748.1 l-4.1 3.0 M713.3 726.0 L716.8 756.8 M716.8 756.8 l-8.4 5.8 M716.5 753.7 l-4.2 2.9 M713.3 731.0 L717.2 761.8 M717.2 761.8 l-8.3 5.9 M716.8 758.7 l-4.2 2.9 M713.3 735.5 L715.9 766.4 M715.9 766.4 l-8.6 5.5 M715.6 763.3 l-4.3 2.8 M713.3 739.5 L716.1 770.4 M716.1 770.4 l-8.5 5.6 M713.3 742.5 L714.7 773.5 M714.7 773.5 l-8.8 5.2" fill="none" stroke="#111" stroke-width="1.15"/>
<polyline points="800.6,90.5 795.0,108.0 791.0,125.0 788.8,149.0 787.6,158.8 790.7,187.0 796.0,212.0 802.5,238.8 806.5,260.0 810.0,284.0 812.0,305.0 810.5,329.0 810.0,334.0 804.0,376.5 794.7,420.0 790.0,448.0 786.5,480.0 783.0,505.0 780.5,525.0 778.5,545.0 775.0,562.0 769.0,578.0 762.0,590.0 759.0,594.0 744.0,610.0 730.6,621.8 721.2,632.4 717.6,638.2 717.6,645.3 725.9,657.0 740.0,673.5 744.7,685.3 746.0,697.0 746.8,710.0 747.3,729.4 744.7,737.6 740.0,740.3 735.3,741.2" fill="none" stroke="#2cba2c" stroke-width="1.15" stroke-linejoin="round"/>
<line x1="804.3" x2="804.3" y1="51" y2="800.8" stroke="#111" stroke-width="2.1"/>
<g font-size="16.5" fill="#000" stroke="#000" stroke-width="0.45">
<line x1="804.3" x2="813.4" y1="100.5" y2="100.5" stroke="#111" stroke-width="1"/>
<text x="843" y="105.9" text-anchor="end">32</text>
<line x1="804.3" x2="813.4" y1="148.5" y2="148.5" stroke="#111" stroke-width="1"/>
<text x="843" y="154.1" text-anchor="end">30</text>
<line x1="804.3" x2="813.4" y1="195.5" y2="195.5" stroke="#111" stroke-width="1"/>
<text x="843" y="201.2" text-anchor="end">28</text>
<line x1="804.3" x2="813.4" y1="241.5" y2="241.5" stroke="#111" stroke-width="1"/>
<text x="843" y="247.7" text-anchor="end">26</text>
<line x1="804.3" x2="813.4" y1="287.5" y2="287.5" stroke="#111" stroke-width="1"/>
<text x="843" y="293.1" text-anchor="end">24</text>
<line x1="804.3" x2="813.4" y1="332.5" y2="332.5" stroke="#111" stroke-width="1"/>
<text x="843" y="338.1" text-anchor="end">22</text>
<line x1="804.3" x2="813.4" y1="376.5" y2="376.5" stroke="#111" stroke-width="1"/>
<text x="843" y="382.5" text-anchor="end">20</text>
<line x1="804.3" x2="813.4" y1="419.5" y2="419.5" stroke="#111" stroke-width="1"/>
<text x="843" y="425.4" text-anchor="end">18</text>
<line x1="804.3" x2="813.4" y1="462.5" y2="462.5" stroke="#111" stroke-width="1"/>
<text x="843" y="468.5" text-anchor="end">16</text>
<line x1="804.3" x2="813.4" y1="504.5" y2="504.5" stroke="#111" stroke-width="1"/>
<text x="843" y="510.5" text-anchor="end">14</text>
<line x1="804.3" x2="813.4" y1="546.5" y2="546.5" stroke="#111" stroke-width="1"/>
<text x="843" y="551.9" text-anchor="end">12</text>
<line x1="804.3" x2="813.4" y1="587.5" y2="587.5" stroke="#111" stroke-width="1"/>
<text x="843" y="592.9" text-anchor="end">10</text>
<line x1="804.3" x2="813.4" y1="627.5" y2="627.5" stroke="#111" stroke-width="1"/>
<text x="843" y="632.9" text-anchor="end">8</text>
<line x1="804.3" x2="813.4" y1="666.5" y2="666.5" stroke="#111" stroke-width="1"/>
<text x="843" y="672.1" text-anchor="end">6</text>
<line x1="804.3" x2="813.4" y1="705.5" y2="705.5" stroke="#111" stroke-width="1"/>
<text x="843" y="710.9" text-anchor="end">4</text>
<line x1="804.3" x2="813.4" y1="743.5" y2="743.5" stroke="#111" stroke-width="1"/>
<text x="843" y="749.2" text-anchor="end">2</text>
<line x1="804.3" x2="813.4" y1="781.5" y2="781.5" stroke="#111" stroke-width="1"/>
<text x="843" y="787.5" text-anchor="end">0</text>
</g>
<text transform="translate(774,356.8) rotate(90)" font-size="17.2" fill="#000" stroke="#000" stroke-width="0.3" textLength="138.5" lengthAdjust="spacingAndGlyphs">Height (1000 Feet)</text>
<g font-size="12" fill="#10b010" stroke="#10b010" stroke-width="0.5" text-anchor="middle">
<text x="713.2" y="65.5">0</text>
<text x="713.2" y="799.3">0</text>
<text x="759.0" y="65.5">20</text>
<text x="759.0" y="799.3">20</text>
<text x="804.3" y="65.5">40</text>
<text x="804.3" y="799.3">40</text>
<text x="850.3" y="65.5">60</text><text x="850.3" y="799.3">60</text>
</g>
<text x="732" y="812.8" font-size="12.2" fill="#10b010" stroke="#10b010" stroke-width="0.3" textLength="55.8" lengthAdjust="spacingAndGlyphs">Speed (kt)</text>
<g font-size="11.3" text-anchor="middle">
<text x="56.5" y="49.4" fill="#10b010" stroke="#10b010" stroke-width="0.35">0.0</text>
<text x="56.5" y="64.1" fill="#000" stroke="#000" stroke-width="0.3">0.0</text>
<text x="87.2" y="49.4" fill="#10b010" stroke="#10b010" stroke-width="0.35">0.5</text>
<text x="87.2" y="64.1" fill="#000" stroke="#000" stroke-width="0.3">0.5</text>
<text x="116.6" y="49.4" fill="#10b010" stroke="#10b010" stroke-width="0.35">1.0</text>
<text x="116.6" y="64.1" fill="#000" stroke="#000" stroke-width="0.3">1.0</text>
</g>
<g font-size="12.2" text-anchor="middle">
<text x="57.0" y="798.9" fill="#10b010" stroke="#10b010" stroke-width="0.3">0.0</text>
<text x="57.0" y="812.6" fill="#000" stroke="#000" stroke-width="0.35">0.0</text>
<text x="87.3" y="798.9" fill="#10b010" stroke="#10b010" stroke-width="0.3">0.5</text>
<text x="87.3" y="812.6" fill="#000" stroke="#000" stroke-width="0.35">0.5</text>
<text x="118.4" y="798.9" fill="#10b010" stroke="#10b010" stroke-width="0.3">1.0</text>
<text x="118.4" y="812.6" fill="#000" stroke="#000" stroke-width="0.35">1.0</text>
</g>
<text x="133.3" y="798.9" font-size="12.2" fill="#10b010" stroke="#10b010" stroke-width="0.3" textLength="101.5" lengthAdjust="spacingAndGlyphs">CloudWater (g/Kg)</text>
<text x="133.3" y="812.6" font-size="12.2" fill="#000" stroke="#000" stroke-width="0.35" textLength="122.3" lengthAdjust="spacingAndGlyphs">Grid-Scale Cloudiness</text>
<g font-size="16.5" fill="#000" stroke="#000" stroke-width="0.45" text-anchor="end">
<text x="44.8" y="58.2">250</text>
<text x="44.8" y="153.2">300</text>
<text x="44.8" y="303.2">400</text>
<text x="44.8" y="419.2">500</text>
<text x="44.8" y="594.2">700</text>
<text x="44.8" y="696.2">850</text>
<text x="44.8" y="780.2">1000</text>
</g>
<text transform="translate(15,444) rotate(-90)" text-anchor="middle" font-size="16.6" fill="#000" stroke="#000" stroke-width="0.3" textLength="50" lengthAdjust="spacingAndGlyphs">P (hPa)</text>
<g font-size="16.5" fill="#000" stroke="#000" stroke-width="0.45" text-anchor="middle">
<line x1="86.0" x2="86.0" y1="800.5" y2="809.3" stroke="#111" stroke-width="1.1"/>
<text x="85.7" y="833.8">-30</text>
<line x1="168.4" x2="168.4" y1="800.5" y2="809.3" stroke="#111" stroke-width="1.1"/>
<text x="168.1" y="833.8">-20</text>
<line x1="250.7" x2="250.7" y1="800.5" y2="809.3" stroke="#111" stroke-width="1.1"/>
<text x="250.4" y="833.8">-10</text>
<line x1="333.0" x2="333.0" y1="800.5" y2="809.3" stroke="#111" stroke-width="1.1"/>
<text x="333.0" y="833.8">0</text>
<line x1="415.3" x2="415.3" y1="800.5" y2="809.3" stroke="#111" stroke-width="1.1"/>
<text x="415.3" y="833.8">10</text>
<line x1="497.6" x2="497.6" y1="800.5" y2="809.3" stroke="#111" stroke-width="1.1"/>
<text x="497.6" y="833.8">20</text>
<line x1="579.9" x2="579.9" y1="800.5" y2="809.3" stroke="#111" stroke-width="1.1"/>
<text x="579.9" y="833.8">30</text>
<line x1="662.3" x2="662.3" y1="800.5" y2="809.3" stroke="#111" stroke-width="1.1"/>
<text x="662.3" y="833.8">40</text>
<text x="430.8" y="854.5" font-size="15" textLength="110.4" lengthAdjust="spacingAndGlyphs">Temperature (C)</text>
</g>
<circle cx="37.9" cy="21.5" r="4.3" fill="#000"/>
<g fill="#000" stroke="#000" stroke-width="0.4">
<text x="47.8" y="28.3" font-size="20" textLength="96.2" lengthAdjust="spacingAndGlyphs">Springfield</text>
<text x="150.5" y="27.2" font-size="13" textLength="139.5" lengthAdjust="spacingAndGlyphs">-43.384°,171.91° (43,26)</text>
<text x="308.6" y="28.3" font-size="20" textLength="155.0" lengthAdjust="spacingAndGlyphs">Valid 1500 NZDT</text>
<text x="471.0" y="27.6" font-size="14" textLength="53.0" lengthAdjust="spacingAndGlyphs">(0200Z)</text>
<text x="531.0" y="28.3" font-size="20" textLength="164.0" lengthAdjust="spacingAndGlyphs">SUN 31 Aug 2025</text>
<text x="702.5" y="27.6" font-size="14.5" textLength="124.5" lengthAdjust="spacingAndGlyphs">[14hrFcst@1740z]</text>
</g>
<text x="289.5" y="48" font-size="12" fill="#b01050" stroke="#b01050" stroke-width="0.35" textLength="283" lengthAdjust="spacingAndGlyphs">Plcl=905 Tlcl[C]=1 Shox=7 Pwat[cm]=1 Cape[J]= 30</text>
</svg>
</body></html>
